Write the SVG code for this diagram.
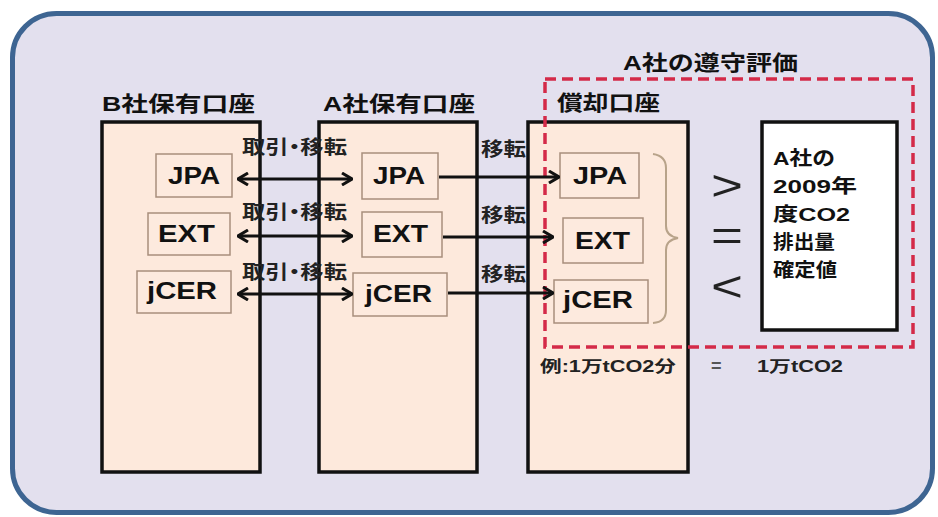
<svg xmlns="http://www.w3.org/2000/svg" width="938" height="517" viewBox="0 0 938 517">
<defs>
<style>
text{font-family:"Liberation Sans","Noto Sans CJK JP",sans-serif;fill:#111;}
.t{font-size:21px;font-weight:bold;}
.lb{font-size:23px;font-weight:bold;}
.sm{font-size:19px;font-weight:bold;fill:#222;font-feature-settings:"palt";}
.wb{font-size:19px;font-weight:bold;}
.bt{font-size:16px;font-weight:bold;fill:#222;}
.sym{font-family:"Liberation Sans",sans-serif;font-size:43px;font-weight:normal;fill:#222;}
.col{fill:#fde9dc;stroke:#111;stroke-width:3.5;}
.box{fill:#fdeade;stroke:#a88e7c;stroke-width:1.5;}
.ln{stroke:#111;stroke-width:3;fill:none;}
</style>
<marker id="ah" viewBox="0 0 12 14" refX="11" refY="7" markerWidth="12" markerHeight="14" markerUnits="userSpaceOnUse" orient="auto-start-reverse">
<path d="M1,1 L11,7 L1,13" fill="none" stroke="#111" stroke-width="3"/>
</marker>
</defs>
<rect x="0" y="0" width="938" height="517" fill="#ffffff"/>
<g id="frame">
<rect x="12.5" y="13.5" width="920" height="499" rx="44" fill="#e3e0ee" stroke="#3e6592" stroke-width="5"/>
</g>
<g id="colB">
<rect class="col" x="102" y="122" width="158" height="350"/>
<text class="t" x="102" y="111" textLength="153" lengthAdjust="spacingAndGlyphs">B社保有口座</text>
</g>
<g id="colA">
<rect class="col" x="319" y="122" width="158" height="350"/>
<text class="t" x="323" y="111" textLength="152" lengthAdjust="spacingAndGlyphs">A社保有口座</text>
</g>
<g id="colR">
<rect class="col" x="528" y="122" width="160" height="350"/>
<text class="t" x="557" y="110" textLength="103" lengthAdjust="spacingAndGlyphs">償却口座</text>
</g>
<g id="emission">
<rect x="762" y="122" width="135" height="208" fill="#ffffff" stroke="#111" stroke-width="3.5"/>
<text class="wb" x="773" y="165" textLength="62" lengthAdjust="spacingAndGlyphs">A社の</text>
<text class="wb" x="773" y="193" textLength="84" lengthAdjust="spacingAndGlyphs">2009年</text>
<text class="wb" x="773" y="221" textLength="77" lengthAdjust="spacingAndGlyphs">度CO2</text>
<text class="wb" x="773" y="249" textLength="62" lengthAdjust="spacingAndGlyphs">排出量</text>
<text class="wb" x="773" y="277" textLength="64" lengthAdjust="spacingAndGlyphs">確定値</text>
</g>
<g id="compliance">
<rect x="545" y="79" width="368" height="268" fill="none" stroke="#d42a48" stroke-width="3.5" stroke-dasharray="11 6"/>
<text class="t" x="623" y="70" textLength="175" lengthAdjust="spacingAndGlyphs">A社の遵守評価</text>
</g>
<g id="B-JPA"><rect class="box" x="156" y="154" width="76" height="43"/><text class="lb" x="168" y="184" textLength="52" lengthAdjust="spacingAndGlyphs">JPA</text></g>
<g id="B-EXT"><rect class="box" x="148" y="213" width="82" height="42"/><text class="lb" x="158" y="242" textLength="57" lengthAdjust="spacingAndGlyphs">EXT</text></g>
<g id="B-jCER"><rect class="box" x="137" y="271" width="94" height="42"/><text class="lb" x="147" y="299" textLength="70" lengthAdjust="spacingAndGlyphs">jCER</text></g>
<g id="A-JPA"><rect class="box" x="362" y="153" width="76" height="46"/><text class="lb" x="373" y="184" textLength="52" lengthAdjust="spacingAndGlyphs">JPA</text></g>
<g id="A-EXT"><rect class="box" x="362" y="212" width="80" height="45"/><text class="lb" x="373" y="242" textLength="55" lengthAdjust="spacingAndGlyphs">EXT</text></g>
<g id="A-jCER"><rect class="box" x="353" y="273" width="94" height="43"/><text class="lb" x="365" y="302" textLength="67" lengthAdjust="spacingAndGlyphs">jCER</text></g>
<g id="R-JPA"><rect class="box" x="560" y="153" width="79" height="45"/><text class="lb" x="573" y="184" textLength="54" lengthAdjust="spacingAndGlyphs">JPA</text></g>
<g id="R-EXT"><rect class="box" x="563" y="218" width="80" height="45"/><text class="lb" x="575" y="249" textLength="55" lengthAdjust="spacingAndGlyphs">EXT</text></g>
<g id="R-jCER"><rect class="box" x="554" y="280" width="94" height="43"/><text class="lb" x="563" y="308" textLength="70" lengthAdjust="spacingAndGlyphs">jCER</text></g>
<g id="brace">
<path d="M653,154 Q666,156 666,168 L666,226 Q666,236 678,238 Q666,240 666,250 L666,310 Q666,322 653,323" fill="none" stroke="#b8a38a" stroke-width="2"/>
</g>
<g id="relations">
<text class="sym" x="711" y="200" textLength="32" lengthAdjust="spacingAndGlyphs">&gt;</text>
<text class="sym" x="711" y="250" textLength="32" lengthAdjust="spacingAndGlyphs">=</text>
<text class="sym" x="711" y="301" textLength="32" lengthAdjust="spacingAndGlyphs">&lt;</text>
<text class="bt" x="540" y="372" textLength="136" lengthAdjust="spacingAndGlyphs">例:1万tCO2分</text>
<text class="bt" x="711" y="372" style="fill:#555;font-size:18px">=</text>
<text class="bt" x="757" y="372" textLength="86" lengthAdjust="spacingAndGlyphs">1万tCO2</text>
</g>
<g id="connectors">
<line class="ln" x1="238" y1="179" x2="352" y2="179" marker-start="url(#ah)" marker-end="url(#ah)"/>
<line class="ln" x1="238" y1="236" x2="352" y2="236" marker-start="url(#ah)" marker-end="url(#ah)"/>
<line class="ln" x1="238" y1="294" x2="352" y2="294" marker-start="url(#ah)" marker-end="url(#ah)"/>
<line class="ln" x1="439" y1="177" x2="559" y2="177" marker-end="url(#ah)"/>
<line class="ln" x1="443" y1="237" x2="553" y2="237" marker-end="url(#ah)"/>
<line class="ln" x1="448" y1="293" x2="553" y2="293" marker-end="url(#ah)"/>
<text class="sm" x="242" y="154" textLength="105" lengthAdjust="spacingAndGlyphs">取引・移転</text>
<text class="sm" x="242" y="219" textLength="105" lengthAdjust="spacingAndGlyphs">取引・移転</text>
<text class="sm" x="242" y="279" textLength="105" lengthAdjust="spacingAndGlyphs">取引・移転</text>
<text class="sm" x="481" y="156" textLength="45" lengthAdjust="spacingAndGlyphs">移転</text>
<text class="sm" x="481" y="222" textLength="45" lengthAdjust="spacingAndGlyphs">移転</text>
<text class="sm" x="481" y="281" textLength="45" lengthAdjust="spacingAndGlyphs">移転</text>
</g>
</svg>
